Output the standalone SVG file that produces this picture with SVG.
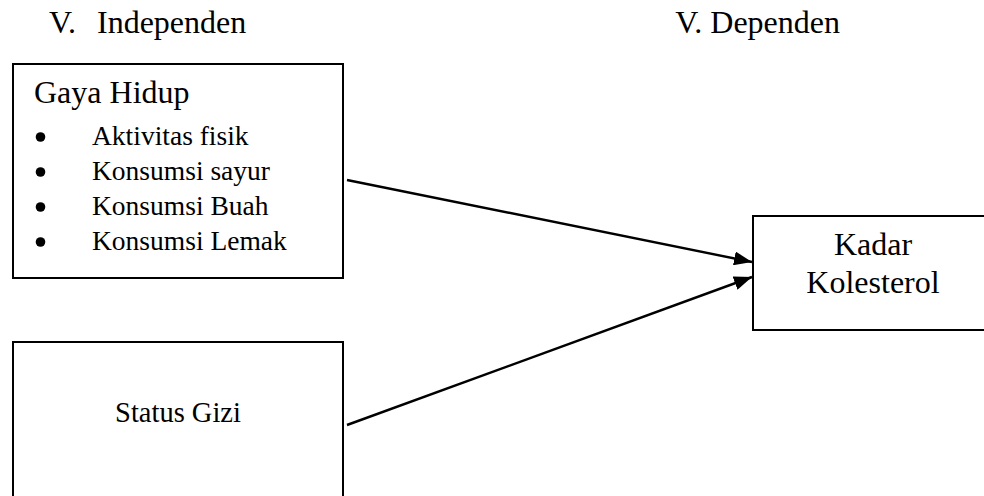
<svg xmlns="http://www.w3.org/2000/svg" width="984" height="496" viewBox="0 0 984 496">
<style>
text{font-family:'Liberation Serif','Times New Roman','DejaVu Serif',serif;fill:#000}
.h{font-size:32px}
.b{font-size:27.5px}
.box{fill:#fff;stroke:#000;stroke-width:2}
.c{fill:none;stroke:#000;stroke-width:2.4}
</style>
<defs>
<marker id="ah" markerUnits="userSpaceOnUse" markerWidth="20" markerHeight="14" refX="18" refY="7" orient="auto">
<path d="M0,0 L18,7 L0,14 z" fill="#000"/>
</marker>
</defs>
<rect width="984" height="496" fill="#fff"/>
<g id="label-independen"><text class="h" font-family="Liberation Serif, serif" x="49" y="33">V.<tspan x="97">Independen</tspan></text></g>
<g id="label-dependen"><text class="h" font-family="Liberation Serif, serif" x="840" y="33" text-anchor="end">V. Dependen</text></g>
<g id="gaya-hidup" font-family="Liberation Serif, serif">
<rect class="box" x="13" y="64" width="330" height="214"/>
<text class="h" x="34" y="103">Gaya Hidup</text>
<circle cx="40.5" cy="137" r="4.8"/>
<circle cx="40.5" cy="172" r="4.8"/>
<circle cx="40.5" cy="207" r="4.8"/>
<circle cx="40.5" cy="242" r="4.8"/>
<text class="b" x="92" y="145">Aktivitas fisik</text>
<text class="b" x="92" y="180">Konsumsi sayur</text>
<text class="b" x="92" y="215">Konsumsi Buah</text>
<text class="b" x="92" y="250">Konsumsi Lemak</text>
</g>
<g id="status-gizi">
<rect class="box" x="13" y="342" width="330" height="170"/>
<text class="b" x="178" y="422" text-anchor="middle" style="font-size:28.5px">Status Gizi</text>
</g>
<g id="kadar-kolesterol">
<rect class="box" x="753" y="216" width="240" height="114"/>
<text class="h" x="873" y="255" text-anchor="middle">Kadar</text>
<text class="h" x="873" y="293" text-anchor="middle">Kolesterol</text>
</g>
<g id="connectors">
<line class="c" x1="347" y1="180" x2="752" y2="262" marker-end="url(#ah)"/>
<line class="c" x1="347" y1="425" x2="752" y2="277" marker-end="url(#ah)"/>
</g>
</svg>
